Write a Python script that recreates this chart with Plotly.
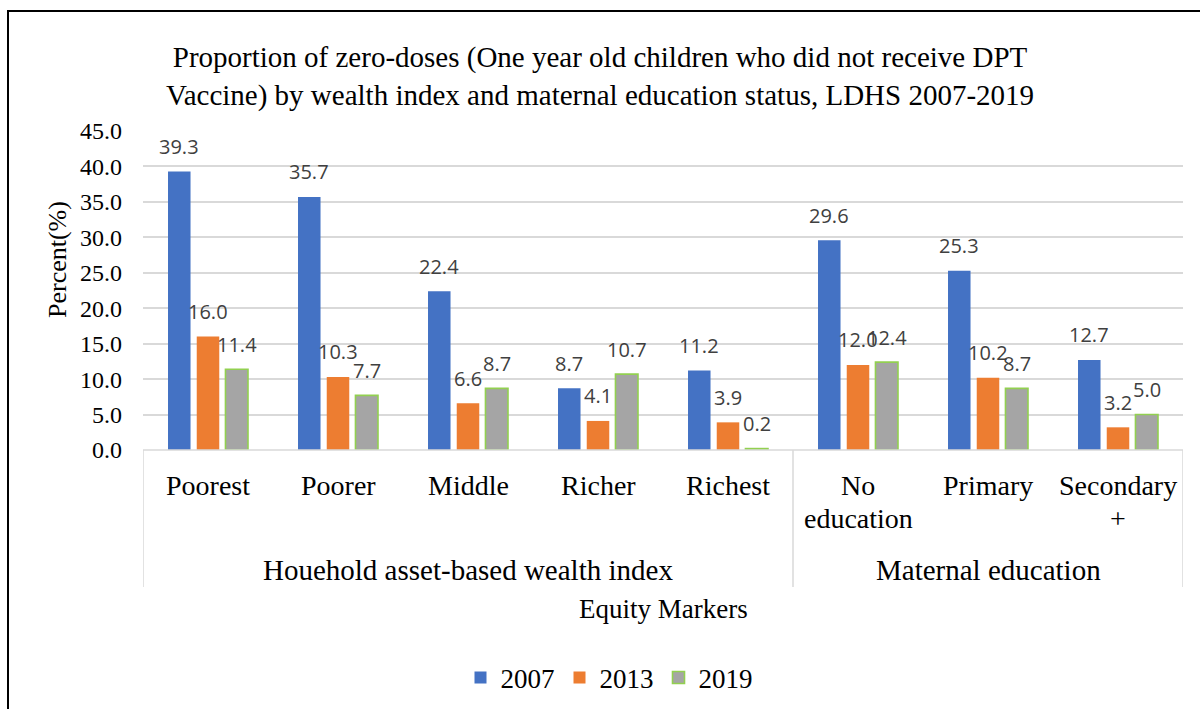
import plotly.graph_objects as go

# Equity markers (level 1) and their groups (level 2)
categories = ["Poorest", "Poorer", "Middle", "Richer", "Richest",
              "No<br>education", "Primary", "Secondary<br>+"]
groups = ["Houehold asset-based wealth index", "Maternal education"]
group_sizes = [5, 3]

years = ["2007", "2013", "2019"]
zero_dose_2007 = [39.3, 35.7, 22.4, 8.7, 11.2, 29.6, 25.3, 12.7]
zero_dose_2013 = [16.0, 10.3, 6.6, 4.1, 3.9, 12.0, 10.2, 3.2]
zero_dose_2019 = [11.4, 7.7, 8.7, 10.7, 0.2, 12.4, 8.7, 5.0]

y_ticks = [0, 5, 10, 15, 20, 25, 30, 35, 40, 45]

series = [zero_dose_2007, zero_dose_2013, zero_dose_2019]
fill_colors = ["#4472C4", "#ED7D31", "#A5A5A5"]
edge_colors = ["#4472C4", "#ED7D31", "#92D050"]
edge_widths = [0, 0, 1.6]

SERIF = "Liberation Serif, Times New Roman, serif"
SANS = "Open Sans, Noto Sans, sans-serif"
GRID = "#D9D9D9"

W, H = 1200, 709
ML, MR, MT, MB = 143, 17, 131, 259
plot_h = H - MT - MB

BARGAP = 0.337
GROUPGAP = 0.216

x_idx = list(range(len(categories)))

fig = go.Figure()
for name, vals, fc, ec, ew in zip(years, series, fill_colors, edge_colors, edge_widths):
    fig.add_trace(go.Bar(
        x=x_idx, y=vals, name=name,
        marker=dict(color=fc, line=dict(color=ec, width=ew)),
        hoverinfo="skip",
    ))

annotations = []

# value labels above each bar
slot = (1 - BARGAP) / len(series)
for k, vals in enumerate(series):
    offset = (k - (len(series) - 1) / 2) * slot
    for i, v in enumerate(vals):
        annotations.append(dict(
            x=i + offset, y=v, xref="x", yref="y",
            text=f"{v:.1f}", showarrow=False,
            xanchor="center", yanchor="middle", yshift=25,
            font=dict(family=SANS, size=20, color="#404040"),
        ))

def py(pixel_y):
    """Convert a page y coordinate to paper units of the plot area."""
    return (H - MB - pixel_y) / plot_h

def px(pixel_x):
    return (pixel_x - ML) / (W - ML - MR)

# first level of category labels
for i, lab in enumerate(categories):
    for j, line in enumerate(lab.split("<br>")):
        annotations.append(dict(
            x=i, y=py(485 + 33 * j), xref="x", yref="paper",
            text=line, showarrow=False, xanchor="center", yanchor="middle",
            font=dict(family=SERIF, size=28, color="black"),
        ))

# second level (group) labels and the boxes that separate them
shapes = []
start = -0.5
line_style = dict(color=GRID, width=1.5)
shapes.append(dict(type="line", xref="x", yref="paper", x0=-0.5, x1=len(categories) - 0.5,
                   y0=0, y1=0, line=line_style))
shapes.append(dict(type="line", xref="x", yref="paper", x0=start, x1=start,
                   y0=0, y1=py(587), line=line_style))
for g, n in zip(groups, group_sizes):
    end = start + n
    annotations.append(dict(
        x=(start + end) / 2, y=py(570), xref="x", yref="paper",
        text=g, showarrow=False, xanchor="center", yanchor="middle",
        font=dict(family=SERIF, size=29, color="black"),
    ))
    shapes.append(dict(type="line", xref="x", yref="paper", x0=end, x1=end,
                       y0=0, y1=py(587), line=line_style))
    start = end

# axis titles
annotations.append(dict(
    x=0.5, y=py(609), xref="paper", yref="paper", text="Equity Markers",
    showarrow=False, xanchor="center", yanchor="middle",
    font=dict(family=SERIF, size=27, color="black"),
))
annotations.append(dict(
    x=px(57), y=py(260), xref="paper", yref="paper", text="Percent(%)",
    showarrow=False, xanchor="center", yanchor="middle", textangle=-90,
    font=dict(family=SERIF, size=26, color="black"),
))

# chart frame
shapes.append(dict(type="rect", xref="paper", yref="paper",
                   x0=px(8), x1=px(1230), y0=py(11), y1=py(740),
                   line=dict(color="black", width=2), layer="below"))

fig.update_layout(
    width=W, height=H,
    margin=dict(l=ML, r=MR, t=MT, b=MB, autoexpand=False),
    paper_bgcolor="white", plot_bgcolor="white",
    barmode="group", bargap=BARGAP, bargroupgap=GROUPGAP,
    title=dict(
        text="Proportion of zero-doses (One year old children who did not receive DPT"
             "<br>Vaccine) by wealth index and maternal education status, LDHS 2007-2019",
        x=0.5, xref="container", xanchor="center",
        y=1 - 67 / H, yref="container", yanchor="middle",
        font=dict(family=SERIF, size=29, color="black"),
    ),
    xaxis=dict(range=[-0.5, len(categories) - 0.5], showticklabels=False,
               showgrid=False, zeroline=False, showline=False, ticks=""),
    yaxis=dict(range=[0, 45], tickvals=y_ticks, tickformat=".1f",
               showgrid=True, gridcolor=GRID, gridwidth=1.5,
               zeroline=False, showline=False, ticks="", ticklabelstandoff=20,
               tickfont=dict(family=SERIF, size=24, color="black")),
    legend=dict(orientation="h", x=0.5 + 9 / W, xref="container", xanchor="center",
                y=1 - 678 / H, yref="container", yanchor="middle",
                font=dict(family=SERIF, size=27, color="black"),
                traceorder="normal", itemclick=False),
    annotations=annotations,
    shapes=shapes,
    showlegend=True,
)

fig.write_html("out.html")
